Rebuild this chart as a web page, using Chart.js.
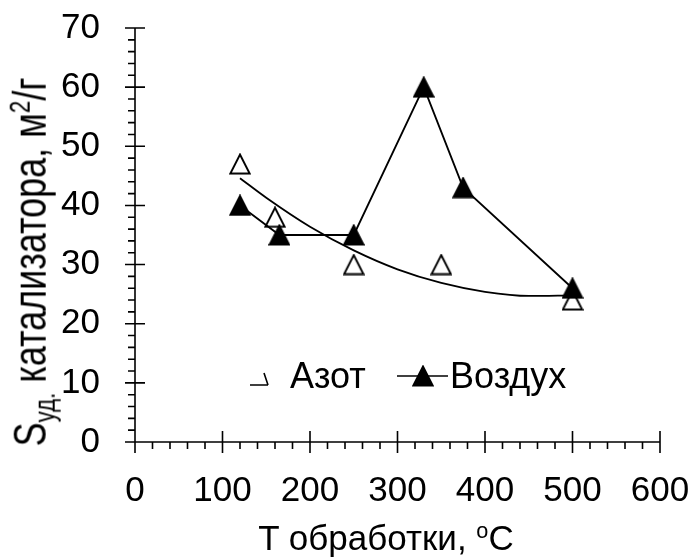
<!DOCTYPE html>
<html>
<head>
<meta charset="utf-8">
<script src="https://cdn.jsdelivr.net/npm/chart.js@4.4.1/dist/chart.umd.min.js"></script>
<style>
  body { margin: 0; background: #fff; }
  #wrap { position: relative; width: 696px; height: 560px; }
  #graf { position: absolute; left: 0; top: 0; }
  .titulo {
    position: absolute;
    font-family: "Liberation Sans", Arial, sans-serif; line-height: 1;
    white-space: nowrap; color: #000;
  }
  #tituloY {
    left: 30px; top: 262px; font-size: 36px;
    transform: translate(-50%, -50%) rotate(-90deg) scale(1, 1.3);
  }
  #tituloX {
    left: 386px; top: 537px; font-size: 35px;
    transform: translate(-50%, -50%);
  }
  .titulo sub, .titulo sup { font-size: 0.62em; position: relative; vertical-align: baseline; }
  .titulo sub { top: 0.3em; }
  .titulo sup { top: -0.55em; }
</style>
</head>
<body>
<div id="wrap">
  <canvas id="graf" width="696" height="560"></canvas>
  <div class="titulo" id="tituloY">S<sub>уд.</sub> катализатора, м<sup>2</sup>/г</div>
  <div class="titulo" id="tituloX">T обработки, <sup>o</sup>C</div>
</div>
<script>
// Datos
const tempAzot = [120, 160, 250, 350, 500];
const sAzot = [47, 38, 30, 30, 24];
const tempAire = [120, 165, 250, 330, 375, 500];
const sAire = [40, 35, 35, 60, 43, 26];
// línea de tendencia (Азот)
const tempTend = [120, 150, 200, 250, 300, 350, 400, 450, 500];
const sTend = [44.6, 41.3, 36.4, 32.4, 29.2, 26.9, 25.4, 24.7, 24.8];

const nombres = ["Азот", "Воздух"];

const FUENTE = "'Liberation Sans', Arial, sans-serif";

// Marcadores triangulares estilo Excel
function triangulo(lleno) {
  const c = document.createElement("canvas");
  c.width = 22; c.height = 22;
  const g = c.getContext("2d");
  g.beginPath();
  g.moveTo(11, 1.5);
  g.lineTo(20.7, 20.5);
  g.lineTo(1.3, 20.5);
  g.closePath();
  g.fillStyle = lleno ? "#000" : "#fff";
  g.fill();
  g.lineWidth = 1.9;
  g.strokeStyle = "#000";
  g.stroke();
  return c;
}
const triLleno = triangulo(true);
const triVacio = triangulo(false);

const puntos = (xs, ys) => xs.map((x, i) => ({ x: x, y: ys[i] }));

// Ejes con marcas mayores y menores
const ejes = {
  id: "ejes",
  beforeDatasetsDraw(chart) {
    const { ctx, scales: { x, y } } = chart;
    const x0 = x.getPixelForValue(0), x1 = x.getPixelForValue(600);
    const y0 = y.getPixelForValue(0), y1 = y.getPixelForValue(70);
    ctx.save();
    ctx.strokeStyle = "#000";
    ctx.lineWidth = 1.6;
    ctx.beginPath();
    ctx.moveTo(x0, y0); ctx.lineTo(x1, y0);
    ctx.moveTo(x0, y0); ctx.lineTo(x0, y1);
    for (let v = 0; v <= 600; v += 20) {
      const px = x.getPixelForValue(v);
      if (v % 100 === 0) { ctx.moveTo(px, y0 - 11); ctx.lineTo(px, y0 + 11); }
      else { ctx.moveTo(px, y0); ctx.lineTo(px, y0 + 7); }
    }
    for (let v = 0; v <= 70; v += 2) {
      const py = y.getPixelForValue(v);
      if (v % 10 === 0) { ctx.moveTo(x0 - 10, py); ctx.lineTo(x0 + 10, py); }
      else { ctx.moveTo(x0 - 7, py); ctx.lineTo(x0, py); }
    }
    ctx.stroke();
    ctx.restore();
  }
};

// Leyenda dentro del área del gráfico
const leyenda = {
  id: "leyenda",
  afterDraw(chart) {
    const { ctx, chartArea } = chart;
    const L = chartArea.left;
    const base = 388;
    ctx.save();
    ctx.strokeStyle = "#000";
    ctx.lineWidth = 1.6;
    // símbolo Азот
    ctx.beginPath();
    ctx.moveTo(L + 115, base - 3); ctx.lineTo(L + 133, base - 3);
    ctx.moveTo(L + 129, base - 15); ctx.lineTo(L + 133, base - 3);
    ctx.stroke();
    // símbolo Воздух
    ctx.beginPath();
    ctx.moveTo(L + 262, base - 12); ctx.lineTo(L + 313, base - 12);
    ctx.stroke();
    ctx.drawImage(triLleno, L + 277, base - 23, 22, 22);
    ctx.fillStyle = "#000";
    ctx.font = "36px " + FUENTE;
    ctx.textBaseline = "alphabetic";
    ctx.fillText(nombres[0], L + 155, base);
    ctx.fillText(nombres[1], L + 315, base);
    ctx.restore();
  }
};

Chart.defaults.font.family = FUENTE;
Chart.defaults.color = "#000";

new Chart(document.getElementById("graf"), {
  type: "scatter",
  data: {
    datasets: [
      {
        label: nombres[1],
        data: puntos(tempAire, sAire),
        showLine: true,
        borderColor: "#000",
        borderWidth: 1.8,
        pointStyle: triLleno,
        tension: 0
      },
      {
        label: nombres[0],
        data: puntos(tempAzot, sAzot),
        showLine: false,
        pointStyle: triVacio
      },
      {
        label: "Тренд",
        data: puntos(tempTend, sTend),
        showLine: true,
        borderColor: "#000",
        borderWidth: 1.8,
        pointRadius: 0,
        cubicInterpolationMode: "monotone"
      }
    ]
  },
  options: {
    responsive: false,
    animation: false,
    layout: { padding: { top: 28, right: 36, left: 0, bottom: 0 } },
    plugins: {
      legend: { display: false },
      tooltip: { enabled: false }
    },
    scales: {
      x: {
        type: "linear",
        min: 0, max: 600,
        grid: { display: false, drawTicks: false },
        border: { display: false },
        ticks: { stepSize: 100, padding: 28, font: { size: 35 } },
        afterFit: s => { s.height = 118; s.paddingLeft = 0; s.paddingRight = 0; }
      },
      y: {
        min: 0, max: 70,
        grid: { display: false, drawTicks: false },
        border: { display: false },
        ticks: { stepSize: 10, padding: 35, font: { size: 35 } },
        afterFit: s => { s.width = 135; s.paddingTop = 0; s.paddingBottom = 0; }
      }
    }
  },
  plugins: [ejes, leyenda]
});
</script>
</body>
</html>
